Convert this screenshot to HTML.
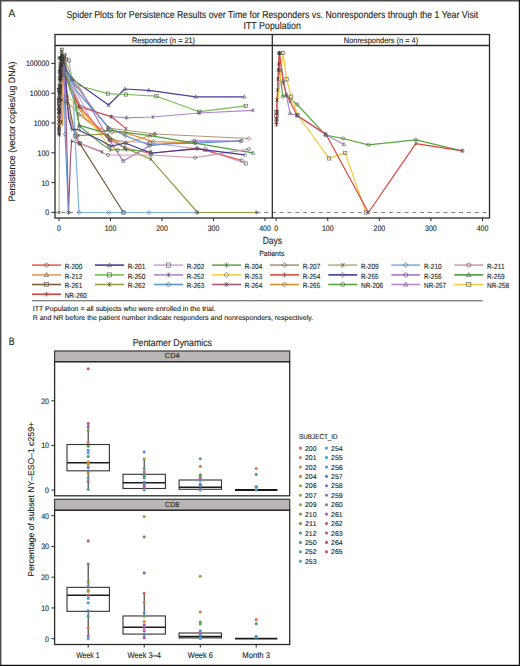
<!DOCTYPE html>
<html><head><meta charset="utf-8"><style>
html,body{margin:0;padding:0;background:#fff;}
body{width:520px;height:666px;overflow:hidden;}
svg{display:block;}
</style></head><body>
<svg width="520" height="666" viewBox="0 0 520 666" font-family="Liberation Sans, sans-serif" text-rendering="geometricPrecision">
<rect x="0" y="0" width="520" height="666" fill="#fff"/>
<line x1="0.70" y1="0.00" x2="0.70" y2="666.00" stroke="#4a4a4a" stroke-width="1.4" />
<line x1="0.00" y1="0.70" x2="520.00" y2="0.70" stroke="#4a4a4a" stroke-width="1.4" />
<line x1="519.40" y1="0.00" x2="519.40" y2="666.00" stroke="#111" stroke-width="1.2" />
<line x1="0.00" y1="665.40" x2="520.00" y2="665.40" stroke="#111" stroke-width="1.2" />
<text x="8.40" y="17.00" font-size="11.2" textLength="6.60" lengthAdjust="spacingAndGlyphs" fill="#231f20" stroke="#231f20" stroke-width="0.12" >A</text>
<text x="66.50" y="18.10" font-size="10.0" textLength="411.70" lengthAdjust="spacingAndGlyphs" fill="#231f20" stroke="#231f20" stroke-width="0.12" >Spider Plots for Persistence Results over Time for Responders vs. Nonresponders through the 1 Year Visit</text>
<text x="243.50" y="29.30" font-size="10.0" textLength="57.40" lengthAdjust="spacingAndGlyphs" fill="#231f20" stroke="#231f20" stroke-width="0.12" >ITT Population</text>
<clipPath id="cl"><rect x="55" y="45.5" width="217" height="172.5"/></clipPath>
<clipPath id="cr"><rect x="272" y="45.5" width="217.5" height="172.5"/></clipPath>
<line x1="55.00" y1="212.50" x2="489.50" y2="212.50" stroke="#707070" stroke-width="0.9" stroke-dasharray="4 3.8" stroke-dashoffset="1.5"/>
<g clip-path="url(#cl)">
<path d="M59.00 58.00 L59.60 68.00 L60.80 80.00 L61.60 100.00 L61.40 122.00 L59.50 135.00 L59.00 212.50" fill="none" stroke="#b5b38a" stroke-width="1.2" stroke-linejoin="round"/>
<path d="M59.00 124.00 L59.60 100.00 L60.60 72.00 L62.00 55.00 L63.50 64.00 L70.00 80.00 L79.20 90.00 L108.00 128.00 L154.80 134.00 L248.80 138.50" fill="none" stroke="#b3957a" stroke-width="1.2" stroke-linejoin="round"/>
<path d="M59.00 100.00 L59.60 78.00 L60.60 64.00 L62.50 58.00 L66.00 59.00 L69.00 60.40 L72.30 83.50 L92.00 122.00 L110.00 140.00 L150.00 143.00 L205.40 149.60 L245.80 163.40" fill="none" stroke="#caa6da" stroke-width="1.2" stroke-linejoin="round"/>
<path d="M59.00 98.00 L59.60 80.00 L60.60 66.00 L62.00 58.00 L64.00 62.00 L67.00 75.00 L80.00 105.00 L96.00 112.00 L111.00 116.50 L126.50 117.80 L152.80 117.00 L199.30 113.00 L252.90 110.30" fill="none" stroke="#ac86cc" stroke-width="1.2" stroke-linejoin="round"/>
<path d="M59.00 116.00 L59.60 94.00 L60.60 74.00 L62.00 60.00 L70.00 78.00 L81.00 90.00 L106.90 136.10 L123.20 161.10 L150.00 145.70 L194.30 140.80 L240.80 141.20" fill="none" stroke="#a678c6" stroke-width="1.2" stroke-linejoin="round"/>
<path d="M59.00 133.00 L59.40 112.00 L59.80 92.00 L60.60 68.00 L62.00 57.00 L64.00 75.00 L66.50 101.50 L79.20 114.20 L109.20 138.40 L126.00 143.00 L141.30 138.50 L154.80 133.70" fill="none" stroke="#e29e5a" stroke-width="1.2" stroke-linejoin="round"/>
<path d="M59.00 130.00 L59.50 108.00 L60.00 86.00 L60.60 66.00 L62.00 58.00 L70.00 85.00 L84.30 118.00 L102.00 129.50 L112.00 132.00 L125.20 132.90 L153.50 141.60 L195.30 142.80" fill="none" stroke="#e09033" stroke-width="1.2" stroke-linejoin="round"/>
<path d="M59.00 110.00 L59.60 92.00 L60.60 72.00 L62.00 60.00 L75.80 90.00 L109.20 128.00 L125.20 135.60 L148.00 144.50 L195.30 143.20 L241.80 140.80" fill="none" stroke="#5b97d6" stroke-width="1.2" stroke-linejoin="round"/>
<path d="M59.00 110.00 L59.60 90.00 L60.60 74.00 L62.00 60.00 L67.10 95.80 L80.40 109.60 L88.20 118.00 L102.00 136.50 L109.20 146.00 L118.00 150.00" fill="none" stroke="#f4cf45" stroke-width="1.2" stroke-linejoin="round"/>
<path d="M59.00 128.00 L59.60 96.00 L60.60 70.00 L62.20 57.00 L64.00 66.00 L70.00 90.00 L79.20 106.70 L89.70 118.00 L101.00 131.50 L110.40 140.00 L125.00 148.00 L151.00 153.50 L197.00 148.20 L241.80 160.40" fill="none" stroke="#e8615f" stroke-width="1.2" stroke-linejoin="round"/>
<path d="M59.00 106.00 L59.60 86.00 L60.60 70.00 L62.50 60.00 L65.40 54.60 L66.50 80.00 L79.20 106.70 L111.50 116.80 L126.10 128.60" fill="none" stroke="#df4a45" stroke-width="1.2" stroke-linejoin="round"/>
<path d="M59.00 104.00 L59.60 90.00 L60.60 76.00 L62.00 62.00 L68.00 100.00 L73.00 125.00 L75.00 135.70 L79.70 143.40 L123.50 212.50" fill="none" stroke="#7d5b34" stroke-width="1.2" stroke-linejoin="round"/>
<path d="M59.00 126.00 L59.60 110.00 L60.60 86.00 L62.00 65.00 L66.00 100.00 L72.00 125.00 L78.20 135.70 L102.00 134.20 L108.00 135.00 L124.50 147.70 L150.80 159.10 L197.60 212.50 L256.50 212.50" fill="none" stroke="#9a9a3e" stroke-width="1.2" stroke-linejoin="round"/>
<path d="M59.00 120.00 L59.60 100.00 L60.60 78.00 L62.00 58.00 L68.00 80.00 L76.00 105.00 L78.20 118.00 L79.30 125.30 L102.00 131.80 L107.70 130.00 L150.00 135.60 L252.90 152.90" fill="none" stroke="#4e9a3e" stroke-width="1.2" stroke-linejoin="round"/>
<path d="M59.00 122.00 L59.60 98.00 L60.60 76.00 L62.00 56.00 L68.00 82.00 L75.00 104.00 L79.30 126.00 L102.00 144.20 L110.40 149.80 L126.50 149.80 L150.80 151.50" fill="none" stroke="#6aa84f" stroke-width="1.2" stroke-linejoin="round"/>
<path d="M59.00 134.00 L59.60 112.00 L60.60 88.00 L62.00 65.00 L65.00 90.00 L66.20 120.00 L68.50 212.50 L70.50 158.00 L71.60 141.00 L79.70 143.40 L102.00 151.80" fill="none" stroke="#a8557a" stroke-width="1.2" stroke-linejoin="round"/>
<path d="M59.00 108.00 L59.60 88.00 L60.60 72.00 L62.00 56.00 L64.00 85.00 L70.00 120.00 L79.70 143.40 L108.00 155.00 L150.80 155.00 L195.30 157.70 L248.80 149.20" fill="none" stroke="#d49bb0" stroke-width="1.2" stroke-linejoin="round"/>
<path d="M59.00 113.00 L59.60 94.00 L60.60 76.00 L62.00 58.00 L64.50 85.00 L65.10 134.20 L68.50 212.50" fill="none" stroke="#5b97d6" stroke-width="1.2" stroke-linejoin="round"/>
<path d="M59.00 118.00 L59.60 92.00 L60.60 70.00 L62.00 60.00 L70.00 80.00 L73.50 100.00 L74.70 130.00 L79.00 212.50 L108.80 212.50 L123.50 212.50 L148.90 212.50 L196.70 212.50" fill="none" stroke="#7fb2e5" stroke-width="1.2" stroke-linejoin="round"/>
<path d="M59.00 131.00 L59.60 104.00 L60.60 80.00 L62.00 62.00 L66.00 80.00 L68.50 118.00 L72.00 129.50 L78.50 129.50 L80.50 131.00 L102.00 141.00 L110.40 146.30 L125.20 143.00 L150.80 153.00 L197.30 148.80 L244.80 154.90" fill="none" stroke="#3f3a9e" stroke-width="1.2" stroke-linejoin="round"/>
<path d="M59.00 112.00 L59.60 84.00 L60.60 66.00 L61.60 52.00 L63.00 60.00 L66.00 70.00 L72.00 79.00 L108.60 105.00 L124.80 89.00 L148.90 90.30 L195.70 96.80 L244.40 96.80" fill="none" stroke="#4a3d9c" stroke-width="1.2" stroke-linejoin="round"/>
<path d="M59.00 90.00 L59.60 72.00 L60.60 58.00 L61.70 49.60 L64.00 58.00 L72.00 77.00 L80.00 86.00 L107.90 93.60 L126.00 94.50 L156.50 96.20 L199.30 111.70 L245.80 105.90" fill="none" stroke="#78bb55" stroke-width="1.2" stroke-linejoin="round"/>
<path d="M59.50 134.00 L60.30 110.00 L61.20 88.00 L62.00 62.00 L62.80 84.00 L63.20 104.00 L62.60 126.00" fill="none" stroke="#d88a2a" stroke-width="1.2" stroke-linejoin="round"/>
<path d="M58.60 125.00 L59.20 100.00 L60.20 76.00 L61.50 58.00 L62.20 75.00 L62.40 95.00 L61.60 118.00" fill="none" stroke="#e29e5a" stroke-width="1.2" stroke-linejoin="round"/>
<path d="M60.00 120.00 L61.00 95.00 L62.00 70.00 L63.50 62.00 L64.50 80.00 L65.00 100.00" fill="none" stroke="#a678c6" stroke-width="1.2" stroke-linejoin="round"/>
<path d="M57.62 56.62L60.38 59.38M60.38 56.62L57.62 59.38M59.00 56.28L59.00 59.72" stroke="#2e2e2e" stroke-width="0.6"/>
<path d="M58.22 66.62L60.98 69.38M60.98 66.62L58.22 69.38M59.60 66.28L59.60 69.72" stroke="#2e2e2e" stroke-width="0.6"/>
<path d="M59.42 78.62L62.18 81.38M62.18 78.62L59.42 81.38M60.80 78.28L60.80 81.72" stroke="#2e2e2e" stroke-width="0.6"/>
<path d="M60.22 98.62L62.98 101.38M62.98 98.62L60.22 101.38M61.60 98.28L61.60 101.72" stroke="#2e2e2e" stroke-width="0.6"/>
<path d="M60.02 120.62L62.78 123.38M62.78 120.62L60.02 123.38M61.40 120.28L61.40 123.72" stroke="#2e2e2e" stroke-width="0.6"/>
<path d="M58.12 133.62L60.88 136.38M60.88 133.62L58.12 136.38M59.50 133.28L59.50 136.72" stroke="#2e2e2e" stroke-width="0.6"/>
<path d="M57.62 211.12L60.38 213.88M60.38 211.12L57.62 213.88M59.00 210.78L59.00 214.22" stroke="#2e2e2e" stroke-width="0.6"/>
<path d="M59.00 122.26L60.74 124.00L59.00 125.74L57.26 124.00Z" fill="none" stroke="#2e2e2e" stroke-width="0.6"/>
<path d="M59.60 98.26L61.34 100.00L59.60 101.74L57.86 100.00Z" fill="none" stroke="#2e2e2e" stroke-width="0.6"/>
<path d="M60.60 70.26L62.34 72.00L60.60 73.74L58.86 72.00Z" fill="none" stroke="#2e2e2e" stroke-width="0.6"/>
<path d="M62.00 53.26L63.74 55.00L62.00 56.74L60.26 55.00Z" fill="none" stroke="#2e2e2e" stroke-width="0.6"/>
<path d="M63.50 62.02L65.48 64.00L63.50 65.98L61.52 64.00Z" fill="none" stroke="#555555" stroke-width="0.6"/>
<path d="M108.00 126.02L109.98 128.00L108.00 129.98L106.02 128.00Z" fill="none" stroke="#555555" stroke-width="0.6"/>
<path d="M154.80 132.02L156.78 134.00L154.80 135.98L152.82 134.00Z" fill="none" stroke="#555555" stroke-width="0.6"/>
<path d="M248.80 136.52L250.78 138.50L248.80 140.48L246.82 138.50Z" fill="none" stroke="#555555" stroke-width="0.6"/>
<rect x="57.55" y="98.55" width="2.90" height="2.90" fill="none" stroke="#2e2e2e" stroke-width="0.6"/>
<rect x="58.15" y="76.55" width="2.90" height="2.90" fill="none" stroke="#2e2e2e" stroke-width="0.6"/>
<rect x="59.15" y="62.55" width="2.90" height="2.90" fill="none" stroke="#2e2e2e" stroke-width="0.6"/>
<rect x="61.05" y="56.55" width="2.90" height="2.90" fill="none" stroke="#2e2e2e" stroke-width="0.6"/>
<rect x="64.35" y="57.35" width="3.30" height="3.30" fill="none" stroke="#555555" stroke-width="0.6"/>
<rect x="67.35" y="58.75" width="3.30" height="3.30" fill="none" stroke="#555555" stroke-width="0.6"/>
<rect x="108.35" y="138.35" width="3.30" height="3.30" fill="none" stroke="#555555" stroke-width="0.6"/>
<rect x="148.35" y="141.35" width="3.30" height="3.30" fill="none" stroke="#555555" stroke-width="0.6"/>
<rect x="203.75" y="147.95" width="3.30" height="3.30" fill="none" stroke="#555555" stroke-width="0.6"/>
<rect x="244.15" y="161.75" width="3.30" height="3.30" fill="none" stroke="#555555" stroke-width="0.6"/>
<path d="M57.62 96.62L60.38 99.38M60.38 96.62L57.62 99.38M59.00 96.28L59.00 99.72" stroke="#2e2e2e" stroke-width="0.6"/>
<path d="M58.22 78.62L60.98 81.38M60.98 78.62L58.22 81.38M59.60 78.28L59.60 81.72" stroke="#2e2e2e" stroke-width="0.6"/>
<path d="M59.22 64.62L61.98 67.38M61.98 64.62L59.22 67.38M60.60 64.28L60.60 67.72" stroke="#2e2e2e" stroke-width="0.6"/>
<path d="M60.62 56.62L63.38 59.38M63.38 56.62L60.62 59.38M62.00 56.28L62.00 59.72" stroke="#2e2e2e" stroke-width="0.6"/>
<path d="M62.43 60.43L65.57 63.57M65.57 60.43L62.43 63.57M64.00 60.04L64.00 63.96" stroke="#555555" stroke-width="0.6"/>
<path d="M109.43 114.93L112.57 118.07M112.57 114.93L109.43 118.07M111.00 114.54L111.00 118.46" stroke="#555555" stroke-width="0.6"/>
<path d="M124.93 116.23L128.07 119.37M128.07 116.23L124.93 119.37M126.50 115.84L126.50 119.76" stroke="#555555" stroke-width="0.6"/>
<path d="M151.23 115.43L154.37 118.57M154.37 115.43L151.23 118.57M152.80 115.04L152.80 118.96" stroke="#555555" stroke-width="0.6"/>
<path d="M197.73 111.43L200.87 114.57M200.87 111.43L197.73 114.57M199.30 111.04L199.30 114.96" stroke="#555555" stroke-width="0.6"/>
<path d="M251.33 108.73L254.47 111.87M254.47 108.73L251.33 111.87M252.90 108.34L252.90 112.26" stroke="#555555" stroke-width="0.6"/>
<circle cx="59.00" cy="116.00" r="1.45" fill="none" stroke="#2e2e2e" stroke-width="0.6"/>
<circle cx="59.60" cy="94.00" r="1.45" fill="none" stroke="#2e2e2e" stroke-width="0.6"/>
<circle cx="60.60" cy="74.00" r="1.45" fill="none" stroke="#2e2e2e" stroke-width="0.6"/>
<circle cx="62.00" cy="60.00" r="1.45" fill="none" stroke="#2e2e2e" stroke-width="0.6"/>
<circle cx="106.90" cy="136.10" r="1.65" fill="none" stroke="#555555" stroke-width="0.6"/>
<circle cx="123.20" cy="161.10" r="1.65" fill="none" stroke="#555555" stroke-width="0.6"/>
<circle cx="150.00" cy="145.70" r="1.65" fill="none" stroke="#555555" stroke-width="0.6"/>
<circle cx="194.30" cy="140.80" r="1.65" fill="none" stroke="#555555" stroke-width="0.6"/>
<circle cx="240.80" cy="141.20" r="1.65" fill="none" stroke="#555555" stroke-width="0.6"/>
<path d="M59.00 131.33L60.59 134.16L57.41 134.16Z" fill="none" stroke="#2e2e2e" stroke-width="0.6"/>
<path d="M59.40 110.33L60.99 113.16L57.80 113.16Z" fill="none" stroke="#2e2e2e" stroke-width="0.6"/>
<path d="M59.80 90.33L61.39 93.16L58.20 93.16Z" fill="none" stroke="#2e2e2e" stroke-width="0.6"/>
<path d="M60.60 66.33L62.20 69.16L59.01 69.16Z" fill="none" stroke="#2e2e2e" stroke-width="0.6"/>
<path d="M62.00 55.33L63.59 58.16L60.41 58.16Z" fill="none" stroke="#2e2e2e" stroke-width="0.6"/>
<path d="M64.00 73.10L65.81 76.32L62.19 76.32Z" fill="none" stroke="#555555" stroke-width="0.6"/>
<path d="M66.50 99.60L68.31 102.82L64.69 102.82Z" fill="none" stroke="#555555" stroke-width="0.6"/>
<path d="M79.20 112.30L81.02 115.52L77.39 115.52Z" fill="none" stroke="#555555" stroke-width="0.6"/>
<path d="M109.20 136.50L111.02 139.72L107.39 139.72Z" fill="none" stroke="#555555" stroke-width="0.6"/>
<path d="M126.00 141.10L127.81 144.32L124.19 144.32Z" fill="none" stroke="#555555" stroke-width="0.6"/>
<path d="M154.80 131.80L156.62 135.02L152.99 135.02Z" fill="none" stroke="#555555" stroke-width="0.6"/>
<path d="M59.00 128.26L60.74 130.00L59.00 131.74L57.26 130.00Z" fill="none" stroke="#2e2e2e" stroke-width="0.6"/>
<path d="M59.50 106.26L61.24 108.00L59.50 109.74L57.76 108.00Z" fill="none" stroke="#2e2e2e" stroke-width="0.6"/>
<path d="M60.00 84.26L61.74 86.00L60.00 87.74L58.26 86.00Z" fill="none" stroke="#2e2e2e" stroke-width="0.6"/>
<path d="M60.60 64.26L62.34 66.00L60.60 67.74L58.86 66.00Z" fill="none" stroke="#2e2e2e" stroke-width="0.6"/>
<path d="M62.00 56.26L63.74 58.00L62.00 59.74L60.26 58.00Z" fill="none" stroke="#2e2e2e" stroke-width="0.6"/>
<path d="M112.00 130.02L113.98 132.00L112.00 133.98L110.02 132.00Z" fill="none" stroke="#555555" stroke-width="0.6"/>
<path d="M125.20 130.92L127.18 132.90L125.20 134.88L123.22 132.90Z" fill="none" stroke="#555555" stroke-width="0.6"/>
<path d="M153.50 139.62L155.48 141.60L153.50 143.58L151.52 141.60Z" fill="none" stroke="#555555" stroke-width="0.6"/>
<path d="M195.30 140.82L197.28 142.80L195.30 144.78L193.32 142.80Z" fill="none" stroke="#555555" stroke-width="0.6"/>
<path d="M59.00 108.26L60.74 110.00L59.00 111.74L57.26 110.00Z" fill="none" stroke="#2e2e2e" stroke-width="0.6"/>
<path d="M59.60 90.26L61.34 92.00L59.60 93.74L57.86 92.00Z" fill="none" stroke="#2e2e2e" stroke-width="0.6"/>
<path d="M60.60 70.26L62.34 72.00L60.60 73.74L58.86 72.00Z" fill="none" stroke="#2e2e2e" stroke-width="0.6"/>
<path d="M62.00 58.26L63.74 60.00L62.00 61.74L60.26 60.00Z" fill="none" stroke="#2e2e2e" stroke-width="0.6"/>
<path d="M109.20 126.02L111.18 128.00L109.20 129.98L107.22 128.00Z" fill="none" stroke="#555555" stroke-width="0.6"/>
<path d="M125.20 133.62L127.18 135.60L125.20 137.58L123.22 135.60Z" fill="none" stroke="#555555" stroke-width="0.6"/>
<path d="M148.00 142.52L149.98 144.50L148.00 146.48L146.02 144.50Z" fill="none" stroke="#555555" stroke-width="0.6"/>
<path d="M195.30 141.22L197.28 143.20L195.30 145.18L193.32 143.20Z" fill="none" stroke="#555555" stroke-width="0.6"/>
<path d="M241.80 138.82L243.78 140.80L241.80 142.78L239.82 140.80Z" fill="none" stroke="#555555" stroke-width="0.6"/>
<path d="M59.00 108.26L60.74 110.00L59.00 111.74L57.26 110.00Z" fill="none" stroke="#2e2e2e" stroke-width="0.6"/>
<path d="M59.60 88.26L61.34 90.00L59.60 91.74L57.86 90.00Z" fill="none" stroke="#2e2e2e" stroke-width="0.6"/>
<path d="M60.60 72.26L62.34 74.00L60.60 75.74L58.86 74.00Z" fill="none" stroke="#2e2e2e" stroke-width="0.6"/>
<path d="M62.00 58.26L63.74 60.00L62.00 61.74L60.26 60.00Z" fill="none" stroke="#2e2e2e" stroke-width="0.6"/>
<path d="M67.10 93.82L69.08 95.80L67.10 97.78L65.12 95.80Z" fill="none" stroke="#555555" stroke-width="0.6"/>
<path d="M80.40 107.62L82.38 109.60L80.40 111.58L78.42 109.60Z" fill="none" stroke="#555555" stroke-width="0.6"/>
<path d="M109.20 144.02L111.18 146.00L109.20 147.98L107.22 146.00Z" fill="none" stroke="#555555" stroke-width="0.6"/>
<path d="M118.00 148.02L119.98 150.00L118.00 151.98L116.02 150.00Z" fill="none" stroke="#555555" stroke-width="0.6"/>
<circle cx="59.00" cy="128.00" r="1.45" fill="none" stroke="#2e2e2e" stroke-width="0.6"/>
<circle cx="59.60" cy="96.00" r="1.45" fill="none" stroke="#2e2e2e" stroke-width="0.6"/>
<circle cx="60.60" cy="70.00" r="1.45" fill="none" stroke="#2e2e2e" stroke-width="0.6"/>
<circle cx="62.20" cy="57.00" r="1.45" fill="none" stroke="#2e2e2e" stroke-width="0.6"/>
<circle cx="64.00" cy="66.00" r="1.65" fill="none" stroke="#555555" stroke-width="0.6"/>
<circle cx="79.20" cy="106.70" r="1.65" fill="none" stroke="#555555" stroke-width="0.6"/>
<circle cx="110.40" cy="140.00" r="1.65" fill="none" stroke="#555555" stroke-width="0.6"/>
<circle cx="125.00" cy="148.00" r="1.65" fill="none" stroke="#555555" stroke-width="0.6"/>
<circle cx="151.00" cy="153.50" r="1.65" fill="none" stroke="#555555" stroke-width="0.6"/>
<circle cx="197.00" cy="148.20" r="1.65" fill="none" stroke="#555555" stroke-width="0.6"/>
<circle cx="241.80" cy="160.40" r="1.65" fill="none" stroke="#555555" stroke-width="0.6"/>
<path d="M57.62 104.62L60.38 107.38M60.38 104.62L57.62 107.38M59.00 104.28L59.00 107.72" stroke="#2e2e2e" stroke-width="0.6"/>
<path d="M58.22 84.62L60.98 87.38M60.98 84.62L58.22 87.38M59.60 84.28L59.60 87.72" stroke="#2e2e2e" stroke-width="0.6"/>
<path d="M59.22 68.62L61.98 71.38M61.98 68.62L59.22 71.38M60.60 68.28L60.60 71.72" stroke="#2e2e2e" stroke-width="0.6"/>
<path d="M61.12 58.62L63.88 61.38M63.88 58.62L61.12 61.38M62.50 58.28L62.50 61.72" stroke="#2e2e2e" stroke-width="0.6"/>
<path d="M63.83 53.03L66.97 56.17M66.97 53.03L63.83 56.17M65.40 52.64L65.40 56.56" stroke="#555555" stroke-width="0.6"/>
<path d="M77.63 105.13L80.77 108.27M80.77 105.13L77.63 108.27M79.20 104.74L79.20 108.66" stroke="#555555" stroke-width="0.6"/>
<path d="M109.93 115.23L113.07 118.37M113.07 115.23L109.93 118.37M111.50 114.84L111.50 118.76" stroke="#555555" stroke-width="0.6"/>
<path d="M124.53 127.03L127.67 130.17M127.67 127.03L124.53 130.17M126.10 126.64L126.10 130.56" stroke="#555555" stroke-width="0.6"/>
<rect x="57.55" y="102.55" width="2.90" height="2.90" fill="none" stroke="#2e2e2e" stroke-width="0.6"/>
<rect x="58.15" y="88.55" width="2.90" height="2.90" fill="none" stroke="#2e2e2e" stroke-width="0.6"/>
<rect x="59.15" y="74.55" width="2.90" height="2.90" fill="none" stroke="#2e2e2e" stroke-width="0.6"/>
<rect x="60.55" y="60.55" width="2.90" height="2.90" fill="none" stroke="#2e2e2e" stroke-width="0.6"/>
<rect x="73.35" y="134.05" width="3.30" height="3.30" fill="none" stroke="#555555" stroke-width="0.6"/>
<rect x="78.05" y="141.75" width="3.30" height="3.30" fill="none" stroke="#555555" stroke-width="0.6"/>
<rect x="121.85" y="210.85" width="3.30" height="3.30" fill="none" stroke="#555555" stroke-width="0.6"/>
<path d="M57.62 124.62L60.38 127.38M60.38 124.62L57.62 127.38M59.00 124.28L59.00 127.72" stroke="#2e2e2e" stroke-width="0.6"/>
<path d="M58.22 108.62L60.98 111.38M60.98 108.62L58.22 111.38M59.60 108.28L59.60 111.72" stroke="#2e2e2e" stroke-width="0.6"/>
<path d="M59.22 84.62L61.98 87.38M61.98 84.62L59.22 87.38M60.60 84.28L60.60 87.72" stroke="#2e2e2e" stroke-width="0.6"/>
<path d="M60.62 63.62L63.38 66.38M63.38 63.62L60.62 66.38M62.00 63.28L62.00 66.72" stroke="#2e2e2e" stroke-width="0.6"/>
<path d="M76.63 134.13L79.77 137.27M79.77 134.13L76.63 137.27M78.20 133.74L78.20 137.66" stroke="#555555" stroke-width="0.6"/>
<path d="M106.43 133.43L109.57 136.57M109.57 133.43L106.43 136.57M108.00 133.04L108.00 136.96" stroke="#555555" stroke-width="0.6"/>
<path d="M122.93 146.13L126.07 149.27M126.07 146.13L122.93 149.27M124.50 145.74L124.50 149.66" stroke="#555555" stroke-width="0.6"/>
<path d="M149.23 157.53L152.37 160.67M152.37 157.53L149.23 160.67M150.80 157.14L150.80 161.06" stroke="#555555" stroke-width="0.6"/>
<path d="M196.03 210.93L199.17 214.07M199.17 210.93L196.03 214.07M197.60 210.54L197.60 214.46" stroke="#555555" stroke-width="0.6"/>
<path d="M254.93 210.93L258.07 214.07M258.07 210.93L254.93 214.07M256.50 210.54L256.50 214.46" stroke="#555555" stroke-width="0.6"/>
<path d="M59.00 118.33L60.59 121.16L57.41 121.16Z" fill="none" stroke="#2e2e2e" stroke-width="0.6"/>
<path d="M59.60 98.33L61.20 101.16L58.01 101.16Z" fill="none" stroke="#2e2e2e" stroke-width="0.6"/>
<path d="M60.60 76.33L62.20 79.16L59.01 79.16Z" fill="none" stroke="#2e2e2e" stroke-width="0.6"/>
<path d="M62.00 56.33L63.59 59.16L60.41 59.16Z" fill="none" stroke="#2e2e2e" stroke-width="0.6"/>
<path d="M79.30 123.40L81.11 126.62L77.48 126.62Z" fill="none" stroke="#555555" stroke-width="0.6"/>
<path d="M107.70 128.10L109.52 131.32L105.89 131.32Z" fill="none" stroke="#555555" stroke-width="0.6"/>
<path d="M150.00 133.70L151.81 136.92L148.19 136.92Z" fill="none" stroke="#555555" stroke-width="0.6"/>
<path d="M252.90 151.00L254.72 154.22L251.09 154.22Z" fill="none" stroke="#555555" stroke-width="0.6"/>
<path d="M57.62 120.62L60.38 123.38M60.38 120.62L57.62 123.38M59.00 120.28L59.00 123.72" stroke="#2e2e2e" stroke-width="0.6"/>
<path d="M58.22 96.62L60.98 99.38M60.98 96.62L58.22 99.38M59.60 96.28L59.60 99.72" stroke="#2e2e2e" stroke-width="0.6"/>
<path d="M59.22 74.62L61.98 77.38M61.98 74.62L59.22 77.38M60.60 74.28L60.60 77.72" stroke="#2e2e2e" stroke-width="0.6"/>
<path d="M60.62 54.62L63.38 57.38M63.38 54.62L60.62 57.38M62.00 54.28L62.00 57.72" stroke="#2e2e2e" stroke-width="0.6"/>
<path d="M77.73 124.43L80.87 127.57M80.87 124.43L77.73 127.57M79.30 124.04L79.30 127.96" stroke="#555555" stroke-width="0.6"/>
<path d="M108.83 148.23L111.97 151.37M111.97 148.23L108.83 151.37M110.40 147.84L110.40 151.76" stroke="#555555" stroke-width="0.6"/>
<path d="M124.93 148.23L128.07 151.37M128.07 148.23L124.93 151.37M126.50 147.84L126.50 151.76" stroke="#555555" stroke-width="0.6"/>
<path d="M149.23 149.93L152.37 153.07M152.37 149.93L149.23 153.07M150.80 149.54L150.80 153.46" stroke="#555555" stroke-width="0.6"/>
<path d="M57.62 132.62L60.38 135.38M60.38 132.62L57.62 135.38M59.00 132.28L59.00 135.72" stroke="#2e2e2e" stroke-width="0.6"/>
<path d="M58.22 110.62L60.98 113.38M60.98 110.62L58.22 113.38M59.60 110.28L59.60 113.72" stroke="#2e2e2e" stroke-width="0.6"/>
<path d="M59.22 86.62L61.98 89.38M61.98 86.62L59.22 89.38M60.60 86.28L60.60 89.72" stroke="#2e2e2e" stroke-width="0.6"/>
<path d="M60.62 63.62L63.38 66.38M63.38 63.62L60.62 66.38M62.00 63.28L62.00 66.72" stroke="#2e2e2e" stroke-width="0.6"/>
<path d="M66.93 210.93L70.07 214.07M70.07 210.93L66.93 214.07M68.50 210.54L68.50 214.46" stroke="#555555" stroke-width="0.6"/>
<path d="M70.03 139.43L73.17 142.57M73.17 139.43L70.03 142.57M71.60 139.04L71.60 142.96" stroke="#555555" stroke-width="0.6"/>
<path d="M78.13 141.83L81.27 144.97M81.27 141.83L78.13 144.97M79.70 141.44L79.70 145.36" stroke="#555555" stroke-width="0.6"/>
<path d="M100.43 150.23L103.57 153.37M103.57 150.23L100.43 153.37M102.00 149.84L102.00 153.76" stroke="#555555" stroke-width="0.6"/>
<circle cx="59.00" cy="108.00" r="1.45" fill="none" stroke="#2e2e2e" stroke-width="0.6"/>
<circle cx="59.60" cy="88.00" r="1.45" fill="none" stroke="#2e2e2e" stroke-width="0.6"/>
<circle cx="60.60" cy="72.00" r="1.45" fill="none" stroke="#2e2e2e" stroke-width="0.6"/>
<circle cx="62.00" cy="56.00" r="1.45" fill="none" stroke="#2e2e2e" stroke-width="0.6"/>
<circle cx="79.70" cy="143.40" r="1.65" fill="none" stroke="#555555" stroke-width="0.6"/>
<circle cx="108.00" cy="155.00" r="1.65" fill="none" stroke="#555555" stroke-width="0.6"/>
<circle cx="150.80" cy="155.00" r="1.65" fill="none" stroke="#555555" stroke-width="0.6"/>
<circle cx="195.30" cy="157.70" r="1.65" fill="none" stroke="#555555" stroke-width="0.6"/>
<circle cx="248.80" cy="149.20" r="1.65" fill="none" stroke="#555555" stroke-width="0.6"/>
<path d="M59.00 111.26L60.74 113.00L59.00 114.74L57.26 113.00Z" fill="none" stroke="#2e2e2e" stroke-width="0.6"/>
<path d="M59.60 92.26L61.34 94.00L59.60 95.74L57.86 94.00Z" fill="none" stroke="#2e2e2e" stroke-width="0.6"/>
<path d="M60.60 74.26L62.34 76.00L60.60 77.74L58.86 76.00Z" fill="none" stroke="#2e2e2e" stroke-width="0.6"/>
<path d="M62.00 56.26L63.74 58.00L62.00 59.74L60.26 58.00Z" fill="none" stroke="#2e2e2e" stroke-width="0.6"/>
<path d="M65.10 132.22L67.08 134.20L65.10 136.18L63.12 134.20Z" fill="none" stroke="#555555" stroke-width="0.6"/>
<path d="M68.50 210.52L70.48 212.50L68.50 214.48L66.52 212.50Z" fill="none" stroke="#555555" stroke-width="0.6"/>
<path d="M59.00 116.26L60.74 118.00L59.00 119.74L57.26 118.00Z" fill="none" stroke="#2e2e2e" stroke-width="0.6"/>
<path d="M59.60 90.26L61.34 92.00L59.60 93.74L57.86 92.00Z" fill="none" stroke="#2e2e2e" stroke-width="0.6"/>
<path d="M60.60 68.26L62.34 70.00L60.60 71.74L58.86 70.00Z" fill="none" stroke="#2e2e2e" stroke-width="0.6"/>
<path d="M62.00 58.26L63.74 60.00L62.00 61.74L60.26 60.00Z" fill="none" stroke="#2e2e2e" stroke-width="0.6"/>
<path d="M74.70 128.02L76.68 130.00L74.70 131.98L72.72 130.00Z" fill="none" stroke="#555555" stroke-width="0.6"/>
<path d="M79.00 210.52L80.98 212.50L79.00 214.48L77.02 212.50Z" fill="none" stroke="#555555" stroke-width="0.6"/>
<path d="M108.80 210.52L110.78 212.50L108.80 214.48L106.82 212.50Z" fill="none" stroke="#555555" stroke-width="0.6"/>
<path d="M123.50 210.52L125.48 212.50L123.50 214.48L121.52 212.50Z" fill="none" stroke="#555555" stroke-width="0.6"/>
<path d="M148.90 210.52L150.88 212.50L148.90 214.48L146.92 212.50Z" fill="none" stroke="#555555" stroke-width="0.6"/>
<path d="M196.70 210.52L198.68 212.50L196.70 214.48L194.72 212.50Z" fill="none" stroke="#555555" stroke-width="0.6"/>
<path d="M59.00 129.26L60.74 131.00L59.00 132.74L57.26 131.00Z" fill="none" stroke="#2e2e2e" stroke-width="0.6"/>
<path d="M59.60 102.26L61.34 104.00L59.60 105.74L57.86 104.00Z" fill="none" stroke="#2e2e2e" stroke-width="0.6"/>
<path d="M60.60 78.26L62.34 80.00L60.60 81.74L58.86 80.00Z" fill="none" stroke="#2e2e2e" stroke-width="0.6"/>
<path d="M62.00 60.26L63.74 62.00L62.00 63.74L60.26 62.00Z" fill="none" stroke="#2e2e2e" stroke-width="0.6"/>
<path d="M72.00 127.52L73.98 129.50L72.00 131.48L70.02 129.50Z" fill="none" stroke="#555555" stroke-width="0.6"/>
<path d="M78.50 127.52L80.48 129.50L78.50 131.48L76.52 129.50Z" fill="none" stroke="#555555" stroke-width="0.6"/>
<path d="M110.40 144.32L112.38 146.30L110.40 148.28L108.42 146.30Z" fill="none" stroke="#555555" stroke-width="0.6"/>
<path d="M125.20 141.02L127.18 143.00L125.20 144.98L123.22 143.00Z" fill="none" stroke="#555555" stroke-width="0.6"/>
<path d="M150.80 151.02L152.78 153.00L150.80 154.98L148.82 153.00Z" fill="none" stroke="#555555" stroke-width="0.6"/>
<path d="M197.30 146.82L199.28 148.80L197.30 150.78L195.32 148.80Z" fill="none" stroke="#555555" stroke-width="0.6"/>
<path d="M244.80 152.92L246.78 154.90L244.80 156.88L242.82 154.90Z" fill="none" stroke="#555555" stroke-width="0.6"/>
<path d="M59.00 110.33L60.59 113.16L57.41 113.16Z" fill="none" stroke="#2e2e2e" stroke-width="0.6"/>
<path d="M59.60 82.33L61.20 85.16L58.01 85.16Z" fill="none" stroke="#2e2e2e" stroke-width="0.6"/>
<path d="M60.60 64.33L62.20 67.16L59.01 67.16Z" fill="none" stroke="#2e2e2e" stroke-width="0.6"/>
<path d="M61.60 50.33L63.20 53.16L60.01 53.16Z" fill="none" stroke="#2e2e2e" stroke-width="0.6"/>
<path d="M63.00 58.10L64.81 61.32L61.19 61.32Z" fill="none" stroke="#555555" stroke-width="0.6"/>
<path d="M66.00 68.10L67.81 71.32L64.19 71.32Z" fill="none" stroke="#555555" stroke-width="0.6"/>
<path d="M72.00 77.10L73.81 80.32L70.19 80.32Z" fill="none" stroke="#555555" stroke-width="0.6"/>
<path d="M108.60 103.10L110.41 106.32L106.78 106.32Z" fill="none" stroke="#555555" stroke-width="0.6"/>
<path d="M124.80 87.10L126.61 90.32L122.98 90.32Z" fill="none" stroke="#555555" stroke-width="0.6"/>
<path d="M148.90 88.40L150.72 91.62L147.09 91.62Z" fill="none" stroke="#555555" stroke-width="0.6"/>
<path d="M195.70 94.90L197.51 98.12L193.88 98.12Z" fill="none" stroke="#555555" stroke-width="0.6"/>
<path d="M244.40 94.90L246.22 98.12L242.59 98.12Z" fill="none" stroke="#555555" stroke-width="0.6"/>
<rect x="57.55" y="88.55" width="2.90" height="2.90" fill="none" stroke="#2e2e2e" stroke-width="0.6"/>
<rect x="58.15" y="70.55" width="2.90" height="2.90" fill="none" stroke="#2e2e2e" stroke-width="0.6"/>
<rect x="59.15" y="56.55" width="2.90" height="2.90" fill="none" stroke="#2e2e2e" stroke-width="0.6"/>
<rect x="60.25" y="48.15" width="2.90" height="2.90" fill="none" stroke="#2e2e2e" stroke-width="0.6"/>
<rect x="62.35" y="56.35" width="3.30" height="3.30" fill="none" stroke="#555555" stroke-width="0.6"/>
<rect x="106.25" y="91.95" width="3.30" height="3.30" fill="none" stroke="#555555" stroke-width="0.6"/>
<rect x="124.35" y="92.85" width="3.30" height="3.30" fill="none" stroke="#555555" stroke-width="0.6"/>
<rect x="154.85" y="94.55" width="3.30" height="3.30" fill="none" stroke="#555555" stroke-width="0.6"/>
<rect x="197.65" y="110.05" width="3.30" height="3.30" fill="none" stroke="#555555" stroke-width="0.6"/>
<rect x="244.15" y="104.25" width="3.30" height="3.30" fill="none" stroke="#555555" stroke-width="0.6"/>
</g>
<g clip-path="url(#cr)">
<path d="M276.50 120.00 L279.40 53.00 L279.40 70.00 L282.80 96.60 L286.40 95.40 L297.20 104.50 L325.70 135.10 L343.10 138.50 L368.40 144.80 L415.80 139.80 L462.40 150.80" fill="none" stroke="#5aa83e" stroke-width="1.2" stroke-linejoin="round"/>
<path d="M276.50 122.00 L279.40 53.00 L283.40 81.00 L290.00 113.40 L297.20 115.50 L325.70 134.70 L343.90 144.40" fill="none" stroke="#b78ad6" stroke-width="1.2" stroke-linejoin="round"/>
<path d="M276.50 116.00 L276.50 112.00 L283.00 53.00 L286.60 79.20 L291.20 96.60 L297.50 115.00 L329.10 158.40 L345.20 152.90 L365.90 212.50" fill="none" stroke="#f2ca3a" stroke-width="1.2" stroke-linejoin="round"/>
<path d="M276.50 125.00 L276.60 119.00 L276.80 112.00 L277.00 100.00 L277.50 90.00 L278.00 79.00 L278.30 70.00 L278.60 64.00 L279.40 53.00 L283.40 83.00 L286.40 94.80 L290.00 101.40 L297.20 115.80 L325.70 133.80 L368.40 212.50 L415.80 143.60 L462.40 150.80" fill="none" stroke="#e0443e" stroke-width="1.2" stroke-linejoin="round"/>
<circle cx="276.50" cy="120.00" r="1.65" fill="none" stroke="#2e2e2e" stroke-width="0.6"/>
<circle cx="279.40" cy="53.00" r="1.65" fill="none" stroke="#2e2e2e" stroke-width="0.6"/>
<circle cx="279.40" cy="70.00" r="1.65" fill="none" stroke="#2e2e2e" stroke-width="0.6"/>
<circle cx="282.80" cy="96.60" r="1.65" fill="none" stroke="#555555" stroke-width="0.6"/>
<circle cx="286.40" cy="95.40" r="1.65" fill="none" stroke="#555555" stroke-width="0.6"/>
<circle cx="297.20" cy="104.50" r="1.65" fill="none" stroke="#555555" stroke-width="0.6"/>
<circle cx="325.70" cy="135.10" r="1.65" fill="none" stroke="#555555" stroke-width="0.6"/>
<circle cx="343.10" cy="138.50" r="1.65" fill="none" stroke="#555555" stroke-width="0.6"/>
<circle cx="368.40" cy="144.80" r="1.65" fill="none" stroke="#555555" stroke-width="0.6"/>
<circle cx="415.80" cy="139.80" r="1.65" fill="none" stroke="#555555" stroke-width="0.6"/>
<circle cx="462.40" cy="150.80" r="1.65" fill="none" stroke="#555555" stroke-width="0.6"/>
<path d="M276.50 120.10L278.31 123.32L274.69 123.32Z" fill="none" stroke="#2e2e2e" stroke-width="0.6"/>
<path d="M279.40 51.10L281.21 54.32L277.58 54.32Z" fill="none" stroke="#2e2e2e" stroke-width="0.6"/>
<path d="M283.40 79.10L285.21 82.32L281.58 82.32Z" fill="none" stroke="#555555" stroke-width="0.6"/>
<path d="M290.00 111.50L291.81 114.72L288.19 114.72Z" fill="none" stroke="#555555" stroke-width="0.6"/>
<path d="M297.20 113.60L299.01 116.82L295.38 116.82Z" fill="none" stroke="#555555" stroke-width="0.6"/>
<path d="M325.70 132.80L327.51 136.02L323.88 136.02Z" fill="none" stroke="#555555" stroke-width="0.6"/>
<path d="M343.90 142.50L345.71 145.72L342.08 145.72Z" fill="none" stroke="#555555" stroke-width="0.6"/>
<rect x="274.85" y="114.35" width="3.30" height="3.30" fill="none" stroke="#2e2e2e" stroke-width="0.6"/>
<rect x="274.85" y="110.35" width="3.30" height="3.30" fill="none" stroke="#2e2e2e" stroke-width="0.6"/>
<rect x="281.35" y="51.35" width="3.30" height="3.30" fill="none" stroke="#555555" stroke-width="0.6"/>
<rect x="284.95" y="77.55" width="3.30" height="3.30" fill="none" stroke="#555555" stroke-width="0.6"/>
<rect x="289.55" y="94.95" width="3.30" height="3.30" fill="none" stroke="#555555" stroke-width="0.6"/>
<rect x="295.85" y="113.35" width="3.30" height="3.30" fill="none" stroke="#555555" stroke-width="0.6"/>
<rect x="327.45" y="156.75" width="3.30" height="3.30" fill="none" stroke="#555555" stroke-width="0.6"/>
<rect x="343.55" y="151.25" width="3.30" height="3.30" fill="none" stroke="#555555" stroke-width="0.6"/>
<rect x="364.25" y="210.85" width="3.30" height="3.30" fill="none" stroke="#555555" stroke-width="0.6"/>
<path d="M274.93 123.43L278.07 126.57M278.07 123.43L274.93 126.57M276.50 123.04L276.50 126.96" stroke="#2e2e2e" stroke-width="0.6"/>
<path d="M275.03 117.43L278.17 120.57M278.17 117.43L275.03 120.57M276.60 117.04L276.60 120.96" stroke="#2e2e2e" stroke-width="0.6"/>
<path d="M275.23 110.43L278.37 113.57M278.37 110.43L275.23 113.57M276.80 110.04L276.80 113.96" stroke="#2e2e2e" stroke-width="0.6"/>
<path d="M275.43 98.43L278.57 101.57M278.57 98.43L275.43 101.57M277.00 98.04L277.00 101.96" stroke="#2e2e2e" stroke-width="0.6"/>
<path d="M275.93 88.43L279.07 91.57M279.07 88.43L275.93 91.57M277.50 88.04L277.50 91.96" stroke="#2e2e2e" stroke-width="0.6"/>
<path d="M276.43 77.43L279.57 80.57M279.57 77.43L276.43 80.57M278.00 77.04L278.00 80.96" stroke="#2e2e2e" stroke-width="0.6"/>
<path d="M276.73 68.43L279.87 71.57M279.87 68.43L276.73 71.57M278.30 68.04L278.30 71.96" stroke="#2e2e2e" stroke-width="0.6"/>
<path d="M277.03 62.43L280.17 65.57M280.17 62.43L277.03 65.57M278.60 62.04L278.60 65.96" stroke="#2e2e2e" stroke-width="0.6"/>
<path d="M277.83 51.43L280.97 54.57M280.97 51.43L277.83 54.57M279.40 51.04L279.40 54.96" stroke="#2e2e2e" stroke-width="0.6"/>
<path d="M281.83 81.43L284.97 84.57M284.97 81.43L281.83 84.57M283.40 81.04L283.40 84.96" stroke="#555555" stroke-width="0.6"/>
<path d="M284.83 93.23L287.97 96.37M287.97 93.23L284.83 96.37M286.40 92.84L286.40 96.76" stroke="#555555" stroke-width="0.6"/>
<path d="M288.43 99.83L291.57 102.97M291.57 99.83L288.43 102.97M290.00 99.44L290.00 103.36" stroke="#555555" stroke-width="0.6"/>
<path d="M295.63 114.23L298.77 117.37M298.77 114.23L295.63 117.37M297.20 113.84L297.20 117.76" stroke="#555555" stroke-width="0.6"/>
<path d="M324.13 132.23L327.27 135.37M327.27 132.23L324.13 135.37M325.70 131.84L325.70 135.76" stroke="#555555" stroke-width="0.6"/>
<path d="M366.83 210.93L369.97 214.07M369.97 210.93L366.83 214.07M368.40 210.54L368.40 214.46" stroke="#555555" stroke-width="0.6"/>
<path d="M414.23 142.03L417.37 145.17M417.37 142.03L414.23 145.17M415.80 141.64L415.80 145.56" stroke="#555555" stroke-width="0.6"/>
<path d="M460.83 149.23L463.97 152.37M463.97 149.23L460.83 152.37M462.40 148.84L462.40 152.76" stroke="#555555" stroke-width="0.6"/>
</g>
<rect x="55.00" y="34.50" width="434.50" height="183.50" fill="none" stroke="#2b2a2a" stroke-width="1.3"/>
<line x1="55.00" y1="45.50" x2="489.50" y2="45.50" stroke="#2b2a2a" stroke-width="1.3" />
<line x1="272.30" y1="34.50" x2="272.30" y2="218.00" stroke="#222" stroke-width="1.2" />
<text x="131.90" y="42.70" font-size="7.9" textLength="63.10" lengthAdjust="spacingAndGlyphs" fill="#231f20" stroke="#231f20" stroke-width="0.12" >Responder (n = 21)</text>
<text x="343.80" y="42.70" font-size="7.9" textLength="74.30" lengthAdjust="spacingAndGlyphs" fill="#231f20" stroke="#231f20" stroke-width="0.12" >Nonresponders (n = 4)</text>
<line x1="51.30" y1="63.40" x2="55.00" y2="63.40" stroke="#2b2a2a" stroke-width="1" />
<text x="49.20" y="66.30" font-size="8.0" text-anchor="end" textLength="23.28" lengthAdjust="spacingAndGlyphs" fill="#231f20" stroke="#231f20" stroke-width="0.12" >100000</text>
<line x1="51.30" y1="93.20" x2="55.00" y2="93.20" stroke="#2b2a2a" stroke-width="1" />
<text x="49.20" y="96.10" font-size="8.0" text-anchor="end" textLength="19.40" lengthAdjust="spacingAndGlyphs" fill="#231f20" stroke="#231f20" stroke-width="0.12" >10000</text>
<line x1="51.30" y1="123.00" x2="55.00" y2="123.00" stroke="#2b2a2a" stroke-width="1" />
<text x="49.20" y="125.90" font-size="8.0" text-anchor="end" textLength="15.52" lengthAdjust="spacingAndGlyphs" fill="#231f20" stroke="#231f20" stroke-width="0.12" >1000</text>
<line x1="51.30" y1="152.80" x2="55.00" y2="152.80" stroke="#2b2a2a" stroke-width="1" />
<text x="49.20" y="155.70" font-size="8.0" text-anchor="end" textLength="11.64" lengthAdjust="spacingAndGlyphs" fill="#231f20" stroke="#231f20" stroke-width="0.12" >100</text>
<line x1="51.30" y1="182.60" x2="55.00" y2="182.60" stroke="#2b2a2a" stroke-width="1" />
<text x="49.20" y="185.50" font-size="8.0" text-anchor="end" textLength="7.76" lengthAdjust="spacingAndGlyphs" fill="#231f20" stroke="#231f20" stroke-width="0.12" >10</text>
<line x1="51.30" y1="212.40" x2="55.00" y2="212.40" stroke="#2b2a2a" stroke-width="1" />
<text x="49.20" y="215.30" font-size="8.0" text-anchor="end" textLength="3.88" lengthAdjust="spacingAndGlyphs" fill="#231f20" stroke="#231f20" stroke-width="0.12" >0</text>
<line x1="59.00" y1="218.00" x2="59.00" y2="221.00" stroke="#2b2a2a" stroke-width="1" />
<text x="59.00" y="231.20" font-size="8.0" text-anchor="middle" textLength="3.88" lengthAdjust="spacingAndGlyphs" fill="#231f20" stroke="#231f20" stroke-width="0.12" >0</text>
<line x1="276.20" y1="218.00" x2="276.20" y2="221.00" stroke="#2b2a2a" stroke-width="1" />
<text x="276.20" y="231.20" font-size="8.0" text-anchor="middle" textLength="3.88" lengthAdjust="spacingAndGlyphs" fill="#231f20" stroke="#231f20" stroke-width="0.12" >0</text>
<line x1="110.50" y1="218.00" x2="110.50" y2="221.00" stroke="#2b2a2a" stroke-width="1" />
<text x="110.50" y="231.20" font-size="8.0" text-anchor="middle" textLength="11.64" lengthAdjust="spacingAndGlyphs" fill="#231f20" stroke="#231f20" stroke-width="0.12" >100</text>
<line x1="327.78" y1="218.00" x2="327.78" y2="221.00" stroke="#2b2a2a" stroke-width="1" />
<text x="327.78" y="231.20" font-size="8.0" text-anchor="middle" textLength="11.64" lengthAdjust="spacingAndGlyphs" fill="#231f20" stroke="#231f20" stroke-width="0.12" >100</text>
<line x1="162.00" y1="218.00" x2="162.00" y2="221.00" stroke="#2b2a2a" stroke-width="1" />
<text x="162.00" y="231.20" font-size="8.0" text-anchor="middle" textLength="11.64" lengthAdjust="spacingAndGlyphs" fill="#231f20" stroke="#231f20" stroke-width="0.12" >200</text>
<line x1="379.36" y1="218.00" x2="379.36" y2="221.00" stroke="#2b2a2a" stroke-width="1" />
<text x="379.36" y="231.20" font-size="8.0" text-anchor="middle" textLength="11.64" lengthAdjust="spacingAndGlyphs" fill="#231f20" stroke="#231f20" stroke-width="0.12" >200</text>
<line x1="213.50" y1="218.00" x2="213.50" y2="221.00" stroke="#2b2a2a" stroke-width="1" />
<text x="213.50" y="231.20" font-size="8.0" text-anchor="middle" textLength="11.64" lengthAdjust="spacingAndGlyphs" fill="#231f20" stroke="#231f20" stroke-width="0.12" >300</text>
<line x1="430.94" y1="218.00" x2="430.94" y2="221.00" stroke="#2b2a2a" stroke-width="1" />
<text x="430.94" y="231.20" font-size="8.0" text-anchor="middle" textLength="11.64" lengthAdjust="spacingAndGlyphs" fill="#231f20" stroke="#231f20" stroke-width="0.12" >300</text>
<line x1="265.00" y1="218.00" x2="265.00" y2="221.00" stroke="#2b2a2a" stroke-width="1" />
<text x="265.00" y="231.20" font-size="8.0" text-anchor="middle" textLength="11.64" lengthAdjust="spacingAndGlyphs" fill="#231f20" stroke="#231f20" stroke-width="0.12" >400</text>
<line x1="482.52" y1="218.00" x2="482.52" y2="221.00" stroke="#2b2a2a" stroke-width="1" />
<text x="482.52" y="231.20" font-size="8.0" text-anchor="middle" textLength="11.64" lengthAdjust="spacingAndGlyphs" fill="#231f20" stroke="#231f20" stroke-width="0.12" >400</text>
<text x="15.30" y="131.50" font-size="9.3" text-anchor="middle" textLength="139.80" lengthAdjust="spacingAndGlyphs" transform="rotate(-90 15.30 131.50)" fill="#231f20" stroke="#231f20" stroke-width="0.12" >Persistence (vector copies/ug DNA)</text>
<text x="272.30" y="244.40" font-size="10.3" text-anchor="middle" textLength="19.30" lengthAdjust="spacingAndGlyphs" fill="#231f20" stroke="#231f20" stroke-width="0.12" >Days</text>
<text x="271.80" y="256.30" font-size="7.5" text-anchor="middle" textLength="25.20" lengthAdjust="spacingAndGlyphs" fill="#231f20" stroke="#231f20" stroke-width="0.12" >Patients</text>
<line x1="32.00" y1="265.10" x2="61.00" y2="265.10" stroke="#e8615f" stroke-width="1.6" />
<circle cx="46.50" cy="265.10" r="2.10" fill="none" stroke="#555555" stroke-width="0.6"/>
<text x="64.70" y="268.80" font-size="7.4" textLength="17.60" lengthAdjust="spacingAndGlyphs" fill="#231f20" stroke="#231f20" stroke-width="0.12" >R-200</text>
<line x1="95.00" y1="265.10" x2="124.00" y2="265.10" stroke="#4a3d9c" stroke-width="1.6" />
<path d="M109.50 262.69L111.81 266.78L107.19 266.78Z" fill="none" stroke="#555555" stroke-width="0.6"/>
<text x="127.70" y="268.80" font-size="7.4" textLength="17.60" lengthAdjust="spacingAndGlyphs" fill="#231f20" stroke="#231f20" stroke-width="0.12" >R-201</text>
<line x1="154.00" y1="265.10" x2="183.00" y2="265.10" stroke="#caa6da" stroke-width="1.6" />
<rect x="166.40" y="263.00" width="4.20" height="4.20" fill="none" stroke="#555555" stroke-width="0.6"/>
<text x="186.70" y="268.80" font-size="7.4" textLength="17.60" lengthAdjust="spacingAndGlyphs" fill="#231f20" stroke="#231f20" stroke-width="0.12" >R-202</text>
<line x1="212.00" y1="265.10" x2="241.00" y2="265.10" stroke="#6aa84f" stroke-width="1.6" />
<path d="M224.50 263.11L228.50 267.10M228.50 263.11L224.50 267.10M226.50 262.61L226.50 267.59" stroke="#555555" stroke-width="0.6"/>
<text x="244.70" y="268.80" font-size="7.4" textLength="17.60" lengthAdjust="spacingAndGlyphs" fill="#231f20" stroke="#231f20" stroke-width="0.12" >R-204</text>
<line x1="270.00" y1="265.10" x2="299.00" y2="265.10" stroke="#b3957a" stroke-width="1.6" />
<path d="M284.50 262.58L287.02 265.10L284.50 267.62L281.98 265.10Z" fill="none" stroke="#555555" stroke-width="0.6"/>
<text x="302.70" y="268.80" font-size="7.4" textLength="17.60" lengthAdjust="spacingAndGlyphs" fill="#231f20" stroke="#231f20" stroke-width="0.12" >R-207</text>
<line x1="328.30" y1="265.10" x2="357.30" y2="265.10" stroke="#b5b38a" stroke-width="1.6" />
<path d="M340.81 263.11L344.80 267.10M344.80 263.11L340.81 267.10M342.80 262.61L342.80 267.59" stroke="#555555" stroke-width="0.6"/>
<text x="361.00" y="268.80" font-size="7.4" textLength="17.60" lengthAdjust="spacingAndGlyphs" fill="#231f20" stroke="#231f20" stroke-width="0.12" >R-209</text>
<line x1="391.30" y1="265.10" x2="420.30" y2="265.10" stroke="#7fb2e5" stroke-width="1.6" />
<path d="M405.80 262.58L408.32 265.10L405.80 267.62L403.28 265.10Z" fill="none" stroke="#555555" stroke-width="0.6"/>
<text x="424.00" y="268.80" font-size="7.4" textLength="17.60" lengthAdjust="spacingAndGlyphs" fill="#231f20" stroke="#231f20" stroke-width="0.12" >R-210</text>
<line x1="454.30" y1="265.10" x2="483.30" y2="265.10" stroke="#d49bb0" stroke-width="1.6" />
<circle cx="468.80" cy="265.10" r="2.10" fill="none" stroke="#555555" stroke-width="0.6"/>
<text x="487.00" y="268.80" font-size="7.4" textLength="17.60" lengthAdjust="spacingAndGlyphs" fill="#231f20" stroke="#231f20" stroke-width="0.12" >R-211</text>
<line x1="32.00" y1="274.90" x2="61.00" y2="274.90" stroke="#e29e5a" stroke-width="1.6" />
<path d="M46.50 272.48L48.81 276.58L44.19 276.58Z" fill="none" stroke="#555555" stroke-width="0.6"/>
<text x="64.70" y="278.60" font-size="7.4" textLength="17.60" lengthAdjust="spacingAndGlyphs" fill="#231f20" stroke="#231f20" stroke-width="0.12" >R-212</text>
<line x1="95.00" y1="274.90" x2="124.00" y2="274.90" stroke="#78bb55" stroke-width="1.6" />
<rect x="107.40" y="272.80" width="4.20" height="4.20" fill="none" stroke="#555555" stroke-width="0.6"/>
<text x="127.70" y="278.60" font-size="7.4" textLength="17.60" lengthAdjust="spacingAndGlyphs" fill="#231f20" stroke="#231f20" stroke-width="0.12" >R-250</text>
<line x1="154.00" y1="274.90" x2="183.00" y2="274.90" stroke="#ac86cc" stroke-width="1.6" />
<path d="M166.50 272.90L170.50 276.89M170.50 272.90L166.50 276.89M168.50 272.41L168.50 277.39" stroke="#555555" stroke-width="0.6"/>
<text x="186.70" y="278.60" font-size="7.4" textLength="17.60" lengthAdjust="spacingAndGlyphs" fill="#231f20" stroke="#231f20" stroke-width="0.12" >R-252</text>
<line x1="212.00" y1="274.90" x2="241.00" y2="274.90" stroke="#f4cf45" stroke-width="1.6" />
<path d="M226.50 272.38L229.02 274.90L226.50 277.42L223.98 274.90Z" fill="none" stroke="#555555" stroke-width="0.6"/>
<text x="244.70" y="278.60" font-size="7.4" textLength="17.60" lengthAdjust="spacingAndGlyphs" fill="#231f20" stroke="#231f20" stroke-width="0.12" >R-253</text>
<line x1="270.00" y1="274.90" x2="299.00" y2="274.90" stroke="#df4a45" stroke-width="1.6" />
<path d="M282.50 272.90L286.50 276.89M286.50 272.90L282.50 276.89M284.50 272.41L284.50 277.39" stroke="#555555" stroke-width="0.6"/>
<text x="302.70" y="278.60" font-size="7.4" textLength="17.60" lengthAdjust="spacingAndGlyphs" fill="#231f20" stroke="#231f20" stroke-width="0.12" >R-254</text>
<line x1="328.30" y1="274.90" x2="357.30" y2="274.90" stroke="#3f3a9e" stroke-width="1.6" />
<path d="M342.80 272.38L345.32 274.90L342.80 277.42L340.28 274.90Z" fill="none" stroke="#555555" stroke-width="0.6"/>
<text x="361.00" y="278.60" font-size="7.4" textLength="17.60" lengthAdjust="spacingAndGlyphs" fill="#231f20" stroke="#231f20" stroke-width="0.12" >R-255</text>
<line x1="391.30" y1="274.90" x2="420.30" y2="274.90" stroke="#a678c6" stroke-width="1.6" />
<circle cx="405.80" cy="274.90" r="2.10" fill="none" stroke="#555555" stroke-width="0.6"/>
<text x="424.00" y="278.60" font-size="7.4" textLength="17.60" lengthAdjust="spacingAndGlyphs" fill="#231f20" stroke="#231f20" stroke-width="0.12" >R-256</text>
<line x1="454.30" y1="274.90" x2="483.30" y2="274.90" stroke="#4e9a3e" stroke-width="1.6" />
<path d="M468.80 272.48L471.11 276.58L466.49 276.58Z" fill="none" stroke="#555555" stroke-width="0.6"/>
<text x="487.00" y="278.60" font-size="7.4" textLength="17.60" lengthAdjust="spacingAndGlyphs" fill="#231f20" stroke="#231f20" stroke-width="0.12" >R-259</text>
<line x1="32.00" y1="284.50" x2="61.00" y2="284.50" stroke="#7d5b34" stroke-width="1.6" />
<rect x="44.40" y="282.40" width="4.20" height="4.20" fill="none" stroke="#555555" stroke-width="0.6"/>
<text x="64.70" y="288.20" font-size="7.4" textLength="17.60" lengthAdjust="spacingAndGlyphs" fill="#231f20" stroke="#231f20" stroke-width="0.12" >R-261</text>
<line x1="95.00" y1="284.50" x2="124.00" y2="284.50" stroke="#9a9a3e" stroke-width="1.6" />
<path d="M107.50 282.50L111.50 286.50M111.50 282.50L107.50 286.50M109.50 282.01L109.50 286.99" stroke="#555555" stroke-width="0.6"/>
<text x="127.70" y="288.20" font-size="7.4" textLength="17.60" lengthAdjust="spacingAndGlyphs" fill="#231f20" stroke="#231f20" stroke-width="0.12" >R-262</text>
<line x1="154.00" y1="284.50" x2="183.00" y2="284.50" stroke="#5b97d6" stroke-width="1.6" />
<path d="M168.50 281.98L171.02 284.50L168.50 287.02L165.98 284.50Z" fill="none" stroke="#555555" stroke-width="0.6"/>
<text x="186.70" y="288.20" font-size="7.4" textLength="17.60" lengthAdjust="spacingAndGlyphs" fill="#231f20" stroke="#231f20" stroke-width="0.12" >R-263</text>
<line x1="212.00" y1="284.50" x2="241.00" y2="284.50" stroke="#a8557a" stroke-width="1.6" />
<path d="M224.50 282.50L228.50 286.50M228.50 282.50L224.50 286.50M226.50 282.01L226.50 286.99" stroke="#555555" stroke-width="0.6"/>
<text x="244.70" y="288.20" font-size="7.4" textLength="17.60" lengthAdjust="spacingAndGlyphs" fill="#231f20" stroke="#231f20" stroke-width="0.12" >R-264</text>
<line x1="270.00" y1="284.50" x2="299.00" y2="284.50" stroke="#e09033" stroke-width="1.6" />
<path d="M284.50 281.98L287.02 284.50L284.50 287.02L281.98 284.50Z" fill="none" stroke="#555555" stroke-width="0.6"/>
<text x="302.70" y="288.20" font-size="7.4" textLength="17.60" lengthAdjust="spacingAndGlyphs" fill="#231f20" stroke="#231f20" stroke-width="0.12" >R-265</text>
<line x1="328.30" y1="284.50" x2="357.30" y2="284.50" stroke="#5aa83e" stroke-width="1.6" />
<circle cx="342.80" cy="284.50" r="2.10" fill="none" stroke="#555555" stroke-width="0.6"/>
<text x="361.00" y="288.20" font-size="7.4" textLength="22.20" lengthAdjust="spacingAndGlyphs" fill="#231f20" stroke="#231f20" stroke-width="0.12" >NR-206</text>
<line x1="391.30" y1="284.50" x2="420.30" y2="284.50" stroke="#b78ad6" stroke-width="1.6" />
<path d="M405.80 282.08L408.11 286.18L403.49 286.18Z" fill="none" stroke="#555555" stroke-width="0.6"/>
<text x="424.00" y="288.20" font-size="7.4" textLength="22.20" lengthAdjust="spacingAndGlyphs" fill="#231f20" stroke="#231f20" stroke-width="0.12" >NR-257</text>
<line x1="454.30" y1="284.50" x2="483.30" y2="284.50" stroke="#f2ca3a" stroke-width="1.6" />
<rect x="466.70" y="282.40" width="4.20" height="4.20" fill="none" stroke="#555555" stroke-width="0.6"/>
<text x="487.00" y="288.20" font-size="7.4" textLength="22.20" lengthAdjust="spacingAndGlyphs" fill="#231f20" stroke="#231f20" stroke-width="0.12" >NR-258</text>
<line x1="32.00" y1="294.20" x2="61.00" y2="294.20" stroke="#e0443e" stroke-width="1.6" />
<path d="M44.51 292.20L48.49 296.19M48.49 292.20L44.51 296.19M46.50 291.71L46.50 296.69" stroke="#555555" stroke-width="0.6"/>
<text x="64.70" y="297.90" font-size="7.4" textLength="22.20" lengthAdjust="spacingAndGlyphs" fill="#231f20" stroke="#231f20" stroke-width="0.12" >NR-260</text>
<line x1="32.00" y1="300.80" x2="482.70" y2="300.80" stroke="#555" stroke-width="1.1" />
<text x="32.70" y="310.60" font-size="7.0" textLength="182.80" lengthAdjust="spacingAndGlyphs" fill="#231f20" stroke="#231f20" stroke-width="0.12" >ITT Population = all subjects who were enrolled in the trial.</text>
<text x="32.70" y="319.70" font-size="7.0" textLength="280.50" lengthAdjust="spacingAndGlyphs" fill="#231f20" stroke="#231f20" stroke-width="0.12" >R and NR before the patient number indicate responders and nonresponders, respectively.</text>
<text x="8.80" y="344.80" font-size="11.0" textLength="5.80" lengthAdjust="spacingAndGlyphs" fill="#231f20" stroke="#231f20" stroke-width="0.12" >B</text>
<text x="132.70" y="345.50" font-size="10.0" textLength="79.30" lengthAdjust="spacingAndGlyphs" fill="#231f20" stroke="#231f20" stroke-width="0.12" >Pentamer Dynamics</text>
<rect x="54.60" y="351.00" width="235.10" height="10.70" fill="#bab6b5" stroke="none" stroke-width="0"/>
<text x="164.80" y="358.40" font-size="7.3" textLength="14.80" lengthAdjust="spacingAndGlyphs" fill="#231f20" stroke="#231f20" stroke-width="0.12" >CD4</text>
<rect x="54.60" y="351.00" width="235.10" height="10.70" fill="none" stroke="#444" stroke-width="1.3"/>
<rect x="54.60" y="499.30" width="235.10" height="11.00" fill="#bab6b5" stroke="none" stroke-width="0"/>
<text x="165.10" y="507.00" font-size="7.3" textLength="14.10" lengthAdjust="spacingAndGlyphs" fill="#231f20" stroke="#231f20" stroke-width="0.12" >CD8</text>
<rect x="54.60" y="499.30" width="235.10" height="11.00" fill="none" stroke="#444" stroke-width="1.3"/>
<line x1="88.20" y1="444.51" x2="88.20" y2="423.55" stroke="#333" stroke-width="1.1" />
<line x1="88.20" y1="470.82" x2="88.20" y2="489.55" stroke="#333" stroke-width="1.1" />
<rect x="67.00" y="444.51" width="42.40" height="26.31" fill="#fff" stroke="#333" stroke-width="1.1"/>
<line x1="67.00" y1="462.79" x2="109.40" y2="462.79" stroke="#1a1a1a" stroke-width="1.5" />
<circle cx="88.20" cy="368.69" r="1.55" fill="#c05890"/>
<circle cx="88.20" cy="423.55" r="1.55" fill="#c85080"/>
<circle cx="88.20" cy="427.11" r="1.55" fill="#8a70b8"/>
<circle cx="88.20" cy="430.68" r="1.55" fill="#70a840"/>
<circle cx="88.20" cy="442.72" r="1.55" fill="#d87a50"/>
<circle cx="88.20" cy="446.29" r="1.55" fill="#58a048"/>
<circle cx="88.20" cy="450.31" r="1.55" fill="#4a98d2"/>
<circle cx="88.20" cy="452.98" r="1.55" fill="#40a2d6"/>
<circle cx="88.20" cy="456.55" r="1.55" fill="#50a058"/>
<circle cx="88.20" cy="461.90" r="1.55" fill="#d08830"/>
<circle cx="88.20" cy="464.13" r="1.55" fill="#b09a30"/>
<circle cx="88.20" cy="467.25" r="1.55" fill="#6a78c0"/>
<circle cx="88.20" cy="470.82" r="1.55" fill="#4a82c8"/>
<circle cx="88.20" cy="473.05" r="1.55" fill="#c08a30"/>
<circle cx="88.20" cy="477.96" r="1.55" fill="#50a090"/>
<circle cx="88.20" cy="481.53" r="1.55" fill="#9a68b0"/>
<circle cx="88.20" cy="489.55" r="1.55" fill="#48a8b0"/>
<line x1="144.20" y1="474.30" x2="144.20" y2="459.00" stroke="#333" stroke-width="1.1" />
<line x1="144.20" y1="488.48" x2="144.20" y2="490.00" stroke="#333" stroke-width="1.1" />
<rect x="123.00" y="474.30" width="42.40" height="14.18" fill="#fff" stroke="#333" stroke-width="1.1"/>
<line x1="123.00" y1="482.69" x2="165.40" y2="482.69" stroke="#1a1a1a" stroke-width="1.5" />
<circle cx="144.20" cy="452.09" r="1.55" fill="#4a98d2"/>
<circle cx="144.20" cy="458.78" r="1.55" fill="#90a838"/>
<circle cx="144.20" cy="468.59" r="1.55" fill="#48a8c4"/>
<circle cx="144.20" cy="471.71" r="1.55" fill="#d08830"/>
<circle cx="144.20" cy="473.94" r="1.55" fill="#6a78c0"/>
<circle cx="144.20" cy="476.17" r="1.55" fill="#50a058"/>
<circle cx="144.20" cy="477.96" r="1.55" fill="#50a090"/>
<circle cx="144.20" cy="481.97" r="1.55" fill="#9a68b0"/>
<circle cx="144.20" cy="483.76" r="1.55" fill="#4a82c8"/>
<circle cx="144.20" cy="485.99" r="1.55" fill="#c85080"/>
<circle cx="144.20" cy="488.22" r="1.55" fill="#c05890"/>
<circle cx="144.20" cy="490.00" r="1.55" fill="#48a8b0"/>
<line x1="200.30" y1="480.01" x2="200.30" y2="474.84" stroke="#333" stroke-width="1.1" />
<line x1="200.30" y1="489.29" x2="200.30" y2="490.00" stroke="#333" stroke-width="1.1" />
<rect x="179.10" y="480.01" width="42.40" height="9.28" fill="#fff" stroke="#333" stroke-width="1.1"/>
<line x1="179.10" y1="487.19" x2="221.50" y2="487.19" stroke="#1a1a1a" stroke-width="1.5" />
<circle cx="200.30" cy="458.78" r="1.55" fill="#4a98d2"/>
<circle cx="200.30" cy="466.36" r="1.55" fill="#d87a50"/>
<circle cx="200.30" cy="474.84" r="1.55" fill="#70a840"/>
<circle cx="200.30" cy="475.73" r="1.55" fill="#58a048"/>
<circle cx="200.30" cy="478.40" r="1.55" fill="#b05898"/>
<circle cx="200.30" cy="480.63" r="1.55" fill="#48a8c4"/>
<circle cx="200.30" cy="484.20" r="1.55" fill="#8a70b8"/>
<circle cx="200.30" cy="485.99" r="1.55" fill="#4a82c8"/>
<circle cx="200.30" cy="489.11" r="1.55" fill="#c85080"/>
<circle cx="200.30" cy="490.00" r="1.55" fill="#48a8b0"/>
<line x1="256.20" y1="490.00" x2="256.20" y2="490.00" stroke="#333" stroke-width="1.1" />
<line x1="256.20" y1="490.00" x2="256.20" y2="490.00" stroke="#333" stroke-width="1.1" />
<line x1="235.00" y1="490.00" x2="277.40" y2="490.00" stroke="#1a1a1a" stroke-width="1.8" />
<circle cx="256.20" cy="468.59" r="1.55" fill="#d87a50"/>
<circle cx="256.20" cy="474.39" r="1.55" fill="#58a078"/>
<circle cx="256.20" cy="486.43" r="1.55" fill="#48a8c4"/>
<circle cx="256.20" cy="487.32" r="1.55" fill="#50a090"/>
<circle cx="256.20" cy="490.00" r="1.55" fill="#4a98d2"/>
<rect x="54.60" y="361.70" width="235.10" height="134.10" fill="none" stroke="#2b2a2a" stroke-width="1.3"/>
<line x1="51.40" y1="490.00" x2="54.60" y2="490.00" stroke="#2b2a2a" stroke-width="1" />
<text x="48.90" y="492.80" font-size="8.0" text-anchor="end" textLength="3.88" lengthAdjust="spacingAndGlyphs" fill="#231f20" stroke="#231f20" stroke-width="0.12" >0</text>
<line x1="51.40" y1="445.40" x2="54.60" y2="445.40" stroke="#2b2a2a" stroke-width="1" />
<text x="48.90" y="448.20" font-size="8.0" text-anchor="end" textLength="7.76" lengthAdjust="spacingAndGlyphs" fill="#231f20" stroke="#231f20" stroke-width="0.12" >10</text>
<line x1="51.40" y1="400.80" x2="54.60" y2="400.80" stroke="#2b2a2a" stroke-width="1" />
<text x="48.90" y="403.60" font-size="8.0" text-anchor="end" textLength="7.76" lengthAdjust="spacingAndGlyphs" fill="#231f20" stroke="#231f20" stroke-width="0.12" >20</text>
<line x1="88.20" y1="587.35" x2="88.20" y2="563.98" stroke="#333" stroke-width="1.1" />
<line x1="88.20" y1="611.33" x2="88.20" y2="638.70" stroke="#333" stroke-width="1.1" />
<rect x="67.00" y="587.35" width="42.40" height="23.99" fill="#fff" stroke="#333" stroke-width="1.1"/>
<line x1="67.00" y1="595.34" x2="109.40" y2="595.34" stroke="#1a1a1a" stroke-width="1.5" />
<circle cx="88.20" cy="540.92" r="1.55" fill="#c05890"/>
<circle cx="88.20" cy="563.98" r="1.55" fill="#8a70b8"/>
<circle cx="88.20" cy="581.81" r="1.55" fill="#70a840"/>
<circle cx="88.20" cy="586.73" r="1.55" fill="#6a78c0"/>
<circle cx="88.20" cy="589.81" r="1.55" fill="#d87a50"/>
<circle cx="88.20" cy="591.35" r="1.55" fill="#a0a030"/>
<circle cx="88.20" cy="595.34" r="1.55" fill="#c85080"/>
<circle cx="88.20" cy="598.42" r="1.55" fill="#48a8c4"/>
<circle cx="88.20" cy="602.72" r="1.55" fill="#4a98d2"/>
<circle cx="88.20" cy="610.72" r="1.55" fill="#4a82c8"/>
<circle cx="88.20" cy="616.25" r="1.55" fill="#50a090"/>
<circle cx="88.20" cy="627.94" r="1.55" fill="#c08a30"/>
<circle cx="88.20" cy="635.93" r="1.55" fill="#9a68b0"/>
<circle cx="88.20" cy="638.70" r="1.55" fill="#48a8b0"/>
<line x1="144.20" y1="615.95" x2="144.20" y2="593.19" stroke="#333" stroke-width="1.1" />
<line x1="144.20" y1="634.09" x2="144.20" y2="637.78" stroke="#333" stroke-width="1.1" />
<rect x="123.00" y="615.95" width="42.40" height="18.14" fill="#fff" stroke="#333" stroke-width="1.1"/>
<line x1="123.00" y1="627.32" x2="165.40" y2="627.32" stroke="#1a1a1a" stroke-width="1.5" />
<circle cx="144.20" cy="516.62" r="1.55" fill="#90a838"/>
<circle cx="144.20" cy="536.92" r="1.55" fill="#58a048"/>
<circle cx="144.20" cy="572.90" r="1.55" fill="#6a78c0"/>
<circle cx="144.20" cy="593.19" r="1.55" fill="#d06a6a"/>
<circle cx="144.20" cy="602.42" r="1.55" fill="#d87a50"/>
<circle cx="144.20" cy="612.87" r="1.55" fill="#4a98d2"/>
<circle cx="144.20" cy="616.25" r="1.55" fill="#70a840"/>
<circle cx="144.20" cy="621.48" r="1.55" fill="#d08830"/>
<circle cx="144.20" cy="624.86" r="1.55" fill="#c05890"/>
<circle cx="144.20" cy="627.63" r="1.55" fill="#9a68b0"/>
<circle cx="144.20" cy="630.71" r="1.55" fill="#c85080"/>
<circle cx="144.20" cy="634.09" r="1.55" fill="#4a82c8"/>
<circle cx="144.20" cy="637.78" r="1.55" fill="#b05898"/>
<line x1="200.30" y1="633.01" x2="200.30" y2="633.01" stroke="#333" stroke-width="1.1" />
<line x1="200.30" y1="637.90" x2="200.30" y2="638.39" stroke="#333" stroke-width="1.1" />
<rect x="179.10" y="633.01" width="42.40" height="4.89" fill="#fff" stroke="#333" stroke-width="1.1"/>
<line x1="179.10" y1="636.55" x2="221.50" y2="636.55" stroke="#1a1a1a" stroke-width="1.5" />
<circle cx="200.30" cy="576.28" r="1.55" fill="#90a838"/>
<circle cx="200.30" cy="611.95" r="1.55" fill="#d87a50"/>
<circle cx="200.30" cy="622.10" r="1.55" fill="#58a048"/>
<circle cx="200.30" cy="623.94" r="1.55" fill="#70a840"/>
<circle cx="200.30" cy="630.71" r="1.55" fill="#4a98d2"/>
<circle cx="200.30" cy="633.17" r="1.55" fill="#c05890"/>
<circle cx="200.30" cy="635.62" r="1.55" fill="#4a82c8"/>
<circle cx="200.30" cy="638.39" r="1.55" fill="#40a2d6"/>
<line x1="256.20" y1="638.70" x2="256.20" y2="638.70" stroke="#333" stroke-width="1.1" />
<line x1="256.20" y1="638.70" x2="256.20" y2="638.70" stroke="#333" stroke-width="1.1" />
<line x1="235.00" y1="638.70" x2="277.40" y2="638.70" stroke="#1a1a1a" stroke-width="1.8" />
<circle cx="256.20" cy="619.63" r="1.55" fill="#d87a50"/>
<circle cx="256.20" cy="623.63" r="1.55" fill="#58a078"/>
<circle cx="256.20" cy="636.24" r="1.55" fill="#50a090"/>
<circle cx="256.20" cy="638.39" r="1.55" fill="#4a82c8"/>
<rect x="54.60" y="510.30" width="235.10" height="134.20" fill="none" stroke="#2b2a2a" stroke-width="1.3"/>
<line x1="51.40" y1="638.70" x2="54.60" y2="638.70" stroke="#2b2a2a" stroke-width="1" />
<text x="48.90" y="641.50" font-size="8.0" text-anchor="end" textLength="3.88" lengthAdjust="spacingAndGlyphs" fill="#231f20" stroke="#231f20" stroke-width="0.12" >0</text>
<line x1="51.40" y1="607.95" x2="54.60" y2="607.95" stroke="#2b2a2a" stroke-width="1" />
<text x="48.90" y="610.75" font-size="8.0" text-anchor="end" textLength="7.76" lengthAdjust="spacingAndGlyphs" fill="#231f20" stroke="#231f20" stroke-width="0.12" >10</text>
<line x1="51.40" y1="577.20" x2="54.60" y2="577.20" stroke="#2b2a2a" stroke-width="1" />
<text x="48.90" y="580.00" font-size="8.0" text-anchor="end" textLength="7.76" lengthAdjust="spacingAndGlyphs" fill="#231f20" stroke="#231f20" stroke-width="0.12" >20</text>
<line x1="51.40" y1="546.45" x2="54.60" y2="546.45" stroke="#2b2a2a" stroke-width="1" />
<text x="48.90" y="549.25" font-size="8.0" text-anchor="end" textLength="7.76" lengthAdjust="spacingAndGlyphs" fill="#231f20" stroke="#231f20" stroke-width="0.12" >30</text>
<line x1="51.40" y1="515.70" x2="54.60" y2="515.70" stroke="#2b2a2a" stroke-width="1" />
<text x="48.90" y="518.50" font-size="8.0" text-anchor="end" textLength="7.76" lengthAdjust="spacingAndGlyphs" fill="#231f20" stroke="#231f20" stroke-width="0.12" >40</text>
<line x1="88.20" y1="644.50" x2="88.20" y2="647.50" stroke="#2b2a2a" stroke-width="1" />
<text x="87.85" y="657.60" font-size="8.4" text-anchor="middle" textLength="23.30" lengthAdjust="spacingAndGlyphs" fill="#231f20" stroke="#231f20" stroke-width="0.12" >Week 1</text>
<line x1="144.20" y1="644.50" x2="144.20" y2="647.50" stroke="#2b2a2a" stroke-width="1" />
<text x="144.15" y="657.60" font-size="8.4" text-anchor="middle" textLength="33.30" lengthAdjust="spacingAndGlyphs" fill="#231f20" stroke="#231f20" stroke-width="0.12" >Week 3–4</text>
<line x1="200.30" y1="644.50" x2="200.30" y2="647.50" stroke="#2b2a2a" stroke-width="1" />
<text x="200.40" y="657.60" font-size="8.4" text-anchor="middle" textLength="25.20" lengthAdjust="spacingAndGlyphs" fill="#231f20" stroke="#231f20" stroke-width="0.12" >Week 6</text>
<line x1="256.20" y1="644.50" x2="256.20" y2="647.50" stroke="#2b2a2a" stroke-width="1" />
<text x="256.15" y="657.60" font-size="8.4" text-anchor="middle" textLength="27.70" lengthAdjust="spacingAndGlyphs" fill="#231f20" stroke="#231f20" stroke-width="0.12" >Month 3</text>
<text x="34.00" y="499.40" font-size="8.6" text-anchor="middle" textLength="154.80" lengthAdjust="spacingAndGlyphs" transform="rotate(-90 34.00 499.40)" fill="#231f20" stroke="#231f20" stroke-width="0.12" >Percentage of subset NY–ESO–1 c259+</text>
<text x="299.10" y="439.30" font-size="7.0" textLength="38.50" lengthAdjust="spacingAndGlyphs" fill="#231f20" stroke="#231f20" stroke-width="0.12" >SUBJECT_ID</text>
<circle cx="300.40" cy="448.10" r="1.55" fill="#d06a6a"/>
<text x="305.00" y="450.65" font-size="7.0" textLength="11.60" lengthAdjust="spacingAndGlyphs" fill="#231f20" stroke="#231f20" stroke-width="0.12" >200</text>
<circle cx="300.40" cy="457.53" r="1.55" fill="#d87a50"/>
<text x="305.00" y="460.08" font-size="7.0" textLength="11.60" lengthAdjust="spacingAndGlyphs" fill="#231f20" stroke="#231f20" stroke-width="0.12" >201</text>
<circle cx="300.40" cy="466.96" r="1.55" fill="#d08830"/>
<text x="305.00" y="469.51" font-size="7.0" textLength="11.60" lengthAdjust="spacingAndGlyphs" fill="#231f20" stroke="#231f20" stroke-width="0.12" >202</text>
<circle cx="300.40" cy="476.39" r="1.55" fill="#c08a30"/>
<text x="305.00" y="478.94" font-size="7.0" textLength="11.60" lengthAdjust="spacingAndGlyphs" fill="#231f20" stroke="#231f20" stroke-width="0.12" >204</text>
<circle cx="300.40" cy="485.82" r="1.55" fill="#b09a30"/>
<text x="305.00" y="488.37" font-size="7.0" textLength="11.60" lengthAdjust="spacingAndGlyphs" fill="#231f20" stroke="#231f20" stroke-width="0.12" >206</text>
<circle cx="300.40" cy="495.25" r="1.55" fill="#a0a030"/>
<text x="305.00" y="497.80" font-size="7.0" textLength="11.60" lengthAdjust="spacingAndGlyphs" fill="#231f20" stroke="#231f20" stroke-width="0.12" >207</text>
<circle cx="300.40" cy="504.68" r="1.55" fill="#90a838"/>
<text x="305.00" y="507.23" font-size="7.0" textLength="11.60" lengthAdjust="spacingAndGlyphs" fill="#231f20" stroke="#231f20" stroke-width="0.12" >209</text>
<circle cx="300.40" cy="514.11" r="1.55" fill="#70a840"/>
<text x="305.00" y="516.66" font-size="7.0" textLength="11.60" lengthAdjust="spacingAndGlyphs" fill="#231f20" stroke="#231f20" stroke-width="0.12" >210</text>
<circle cx="300.40" cy="523.54" r="1.55" fill="#58a048"/>
<text x="305.00" y="526.09" font-size="7.0" textLength="11.60" lengthAdjust="spacingAndGlyphs" fill="#231f20" stroke="#231f20" stroke-width="0.12" >211</text>
<circle cx="300.40" cy="532.97" r="1.55" fill="#50a058"/>
<text x="305.00" y="535.52" font-size="7.0" textLength="11.60" lengthAdjust="spacingAndGlyphs" fill="#231f20" stroke="#231f20" stroke-width="0.12" >212</text>
<circle cx="300.40" cy="542.40" r="1.55" fill="#58a078"/>
<text x="305.00" y="544.95" font-size="7.0" textLength="11.60" lengthAdjust="spacingAndGlyphs" fill="#231f20" stroke="#231f20" stroke-width="0.12" >250</text>
<circle cx="300.40" cy="551.83" r="1.55" fill="#50a090"/>
<text x="305.00" y="554.38" font-size="7.0" textLength="11.60" lengthAdjust="spacingAndGlyphs" fill="#231f20" stroke="#231f20" stroke-width="0.12" >252</text>
<circle cx="300.40" cy="561.26" r="1.55" fill="#48a8b0"/>
<text x="305.00" y="563.81" font-size="7.0" textLength="11.60" lengthAdjust="spacingAndGlyphs" fill="#231f20" stroke="#231f20" stroke-width="0.12" >253</text>
<circle cx="326.50" cy="448.10" r="1.55" fill="#48a8c4"/>
<text x="331.10" y="450.65" font-size="7.0" textLength="11.60" lengthAdjust="spacingAndGlyphs" fill="#231f20" stroke="#231f20" stroke-width="0.12" >254</text>
<circle cx="326.50" cy="457.53" r="1.55" fill="#40a2d6"/>
<text x="331.10" y="460.08" font-size="7.0" textLength="11.60" lengthAdjust="spacingAndGlyphs" fill="#231f20" stroke="#231f20" stroke-width="0.12" >255</text>
<circle cx="326.50" cy="466.96" r="1.55" fill="#4a98d2"/>
<text x="331.10" y="469.51" font-size="7.0" textLength="11.60" lengthAdjust="spacingAndGlyphs" fill="#231f20" stroke="#231f20" stroke-width="0.12" >256</text>
<circle cx="326.50" cy="476.39" r="1.55" fill="#4a82c8"/>
<text x="331.10" y="478.94" font-size="7.0" textLength="11.60" lengthAdjust="spacingAndGlyphs" fill="#231f20" stroke="#231f20" stroke-width="0.12" >257</text>
<circle cx="326.50" cy="485.82" r="1.55" fill="#6a78c0"/>
<text x="331.10" y="488.37" font-size="7.0" textLength="11.60" lengthAdjust="spacingAndGlyphs" fill="#231f20" stroke="#231f20" stroke-width="0.12" >258</text>
<circle cx="326.50" cy="495.25" r="1.55" fill="#8a70b8"/>
<text x="331.10" y="497.80" font-size="7.0" textLength="11.60" lengthAdjust="spacingAndGlyphs" fill="#231f20" stroke="#231f20" stroke-width="0.12" >259</text>
<circle cx="326.50" cy="504.68" r="1.55" fill="#9a68b0"/>
<text x="331.10" y="507.23" font-size="7.0" textLength="11.60" lengthAdjust="spacingAndGlyphs" fill="#231f20" stroke="#231f20" stroke-width="0.12" >260</text>
<circle cx="326.50" cy="514.11" r="1.55" fill="#a860a8"/>
<text x="331.10" y="516.66" font-size="7.0" textLength="11.60" lengthAdjust="spacingAndGlyphs" fill="#231f20" stroke="#231f20" stroke-width="0.12" >261</text>
<circle cx="326.50" cy="523.54" r="1.55" fill="#b05898"/>
<text x="331.10" y="526.09" font-size="7.0" textLength="11.60" lengthAdjust="spacingAndGlyphs" fill="#231f20" stroke="#231f20" stroke-width="0.12" >262</text>
<circle cx="326.50" cy="532.97" r="1.55" fill="#c05890"/>
<text x="331.10" y="535.52" font-size="7.0" textLength="11.60" lengthAdjust="spacingAndGlyphs" fill="#231f20" stroke="#231f20" stroke-width="0.12" >263</text>
<circle cx="326.50" cy="542.40" r="1.55" fill="#c85080"/>
<text x="331.10" y="544.95" font-size="7.0" textLength="11.60" lengthAdjust="spacingAndGlyphs" fill="#231f20" stroke="#231f20" stroke-width="0.12" >264</text>
<circle cx="326.50" cy="551.83" r="1.55" fill="#c85060"/>
<text x="331.10" y="554.38" font-size="7.0" textLength="11.60" lengthAdjust="spacingAndGlyphs" fill="#231f20" stroke="#231f20" stroke-width="0.12" >265</text>
</svg>
</body></html>
